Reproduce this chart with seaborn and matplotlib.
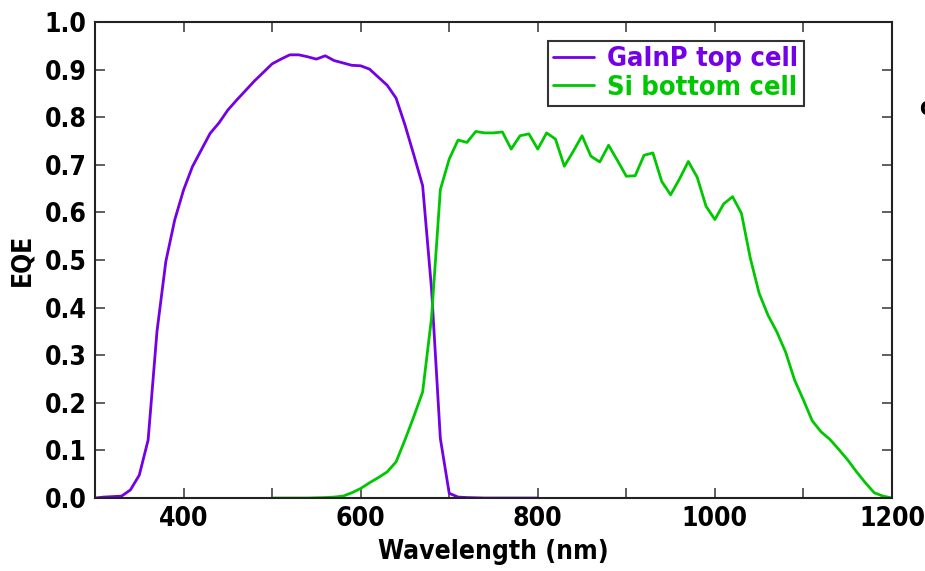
import numpy as np
import pandas as pd
import matplotlib
matplotlib.use("Agg")
import matplotlib.pyplot as plt
from matplotlib.ticker import MultipleLocator
import seaborn as sns

# GaInP top cell EQE
top_wl = [300, 310, 320, 330, 340, 350, 360, 370, 380, 390, 400, 410, 420, 430, 440,
          450, 460, 470, 480, 490, 500, 510, 520, 530, 540, 550, 560, 570, 580, 590,
          600, 610, 620, 630, 640, 650, 660, 670, 680, 690, 700, 710, 720, 740, 760,
          780, 800]
top_eqe = [0.0, 0.002, 0.003, 0.004, 0.017, 0.048, 0.122, 0.35, 0.497, 0.584, 0.647,
           0.696, 0.731, 0.766, 0.788, 0.815, 0.836, 0.856, 0.876, 0.894, 0.912, 0.922,
           0.931, 0.931, 0.927, 0.922, 0.929, 0.919, 0.914, 0.909, 0.908, 0.901, 0.884,
           0.867, 0.840, 0.784, 0.721, 0.656, 0.44, 0.125, 0.010, 0.002, 0.001, 0.0,
           0.0, 0.0, 0.0]

# Si bottom cell EQE
bot_wl = [500, 520, 540, 560, 570, 580, 590, 600, 610, 620, 630, 640, 650, 660, 670,
          680, 690, 700, 710, 720, 730, 740, 750, 760, 770, 780, 790, 800, 810, 820,
          830, 840, 850, 860, 870, 880, 890, 900, 910, 920, 930, 940, 950, 960, 970,
          980, 990, 1000, 1010, 1020, 1030, 1040, 1050, 1060, 1070, 1080, 1090, 1100,
          1110, 1120, 1130, 1140, 1150, 1160, 1170, 1180, 1190, 1200]
bot_eqe = [0.0, 0.0, 0.0, 0.001, 0.002, 0.004, 0.011, 0.020, 0.032, 0.043, 0.055,
           0.076, 0.122, 0.171, 0.223, 0.378, 0.648, 0.712, 0.752, 0.747, 0.770, 0.767,
           0.767, 0.769, 0.733, 0.761, 0.765, 0.733, 0.767, 0.754, 0.697, 0.728, 0.761,
           0.718, 0.706, 0.741, 0.709, 0.676, 0.677, 0.720, 0.725, 0.665, 0.637, 0.670,
           0.707, 0.674, 0.613, 0.585, 0.618, 0.633, 0.598, 0.504, 0.430, 0.384, 0.349,
           0.306, 0.248, 0.206, 0.162, 0.139, 0.123, 0.102, 0.080, 0.055, 0.032, 0.011,
           0.004, 0.0]

labels = ["GaInP top cell", "Si bottom cell"]
colors = ["#7300e6", "#00c800"]

df = pd.concat([
    pd.DataFrame({"wl": top_wl, "eqe": top_eqe, "cell": labels[0]}),
    pd.DataFrame({"wl": bot_wl, "eqe": bot_eqe, "cell": labels[1]}),
])

sns.set_style("ticks")
plt.rcParams['font.family'] = ['DejaVu Sans']
plt.rcParams['font.stretch'] = 'condensed'
plt.rcParams['font.weight'] = 'bold'
plt.rcParams['text.color'] = 'black'
plt.rcParams['axes.labelcolor'] = 'black'
plt.rcParams['xtick.labelcolor'] = 'black'
plt.rcParams['ytick.labelcolor'] = 'black'

fig = plt.figure(figsize=(9.25, 5.71), dpi=100)
ax = fig.add_axes([0.1027, 0.1278, 0.8616, 0.8337])

sns.lineplot(data=df, x="wl", y="eqe", hue="cell", palette=colors, linewidth=2,
             sort=False, ax=ax)

ax.set_xlim(300, 1200)
ax.set_ylim(0, 1.0)
ax.xaxis.set_major_locator(MultipleLocator(200))
ax.xaxis.set_minor_locator(MultipleLocator(100))
ax.yaxis.set_major_locator(MultipleLocator(0.1))
ax.yaxis.set_major_formatter(matplotlib.ticker.FormatStrFormatter('%.1f'))
ax.tick_params(which='both', direction='in', top=True, right=True, length=7,
               width=1.2, color='#444444', labelsize=19, pad=6, labelcolor='black')
for lab in ax.get_xticklabels() + ax.get_yticklabels():
    lab.set_fontweight('bold')
for s in ax.spines.values():
    s.set_linewidth(1.5)
    s.set_color('#222222')

ax.set_xlabel("Wavelength (nm)", fontsize=19, fontweight='bold', labelpad=5)
ax.set_ylabel("EQE", fontsize=19, fontweight='bold', labelpad=7)

leg = ax.legend(loc='upper left', bbox_to_anchor=(0.568, 0.96), frameon=True,
                fancybox=False, edgecolor='black', fontsize=19.5, handlelength=1.5,
                handletextpad=0.5, borderpad=0.2, labelspacing=0.08,
                borderaxespad=0)
leg.get_frame().set_linewidth(1.5)
for txt, c in zip(leg.get_texts(), colors):
    txt.set_color(c)
    txt.set_fontweight('bold')

fig.text(0.994, 0.81, "c", fontsize=17, fontweight='bold', ha='left', va='center')

fig.savefig("out.png", dpi=100)
